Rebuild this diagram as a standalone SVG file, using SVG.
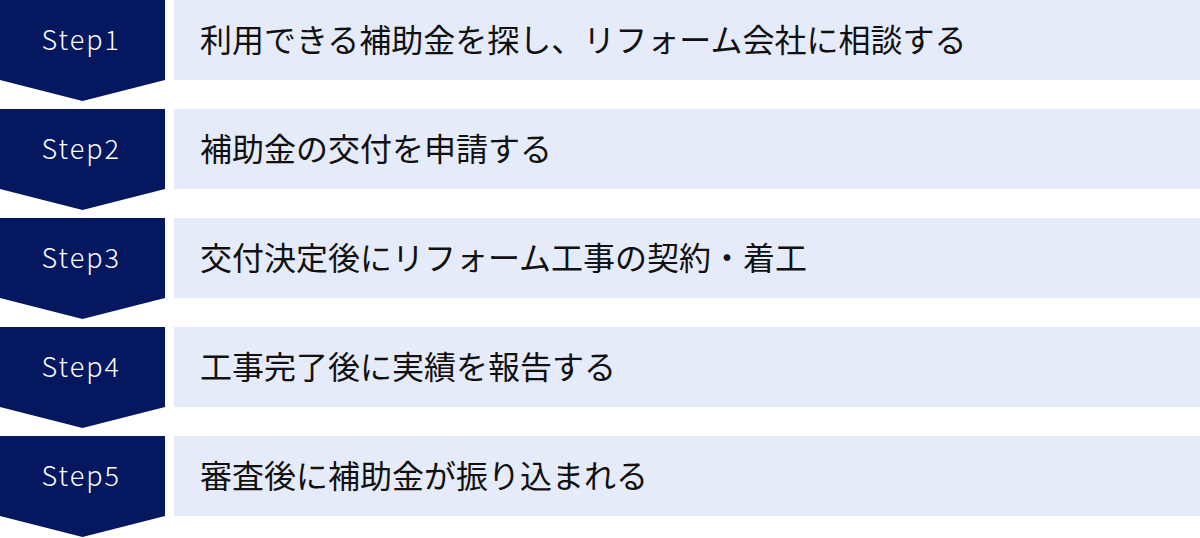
<svg xmlns="http://www.w3.org/2000/svg" width="1200" height="538" viewBox="0 0 1200 538">
<defs>
<style>
.arrow{fill:#04175f}
.box{fill:#e5ebf8}
.lbl{font-family:"Noto Sans CJK JP","Noto Sans",sans-serif;font-size:27px;font-weight:300;fill:#ffffff;letter-spacing:2px}
.txt{font-family:"Noto Sans CJK JP",sans-serif;font-size:32px;fill:#111111}
</style>
</defs>
<rect width="1200" height="538" fill="#ffffff"/>
<g id="step1">
<path class="arrow" d="M0 0H165V80L82.5 101L0 80Z"/>
<rect class="box" x="174" y="0" width="1026" height="80"/>
<text class="lbl" x="41.5" y="49.5">Step1</text>
<text class="txt" x="200" y="52">利用できる補助金を探し、リフォーム会社に相談する</text>
</g>
<g id="step2">
<path class="arrow" d="M0 109H165V189L82.5 210L0 189Z"/>
<rect class="box" x="174" y="109" width="1026" height="80"/>
<text class="lbl" x="41.5" y="158.5">Step2</text>
<text class="txt" x="200" y="161">補助金の交付を申請する</text>
</g>
<g id="step3">
<path class="arrow" d="M0 218H165V298L82.5 319L0 298Z"/>
<rect class="box" x="174" y="218" width="1026" height="80"/>
<text class="lbl" x="41.5" y="267.5">Step3</text>
<text class="txt" x="200" y="270">交付決定後にリフォーム工事の契約・着工</text>
</g>
<g id="step4">
<path class="arrow" d="M0 327H165V407L82.5 428L0 407Z"/>
<rect class="box" x="174" y="327" width="1026" height="80"/>
<text class="lbl" x="41.5" y="376.5">Step4</text>
<text class="txt" x="200" y="379">工事完了後に実績を報告する</text>
</g>
<g id="step5">
<path class="arrow" d="M0 436H165V516L82.5 537L0 516Z"/>
<rect class="box" x="174" y="436" width="1026" height="80"/>
<text class="lbl" x="41.5" y="485.5">Step5</text>
<text class="txt" x="200" y="488">審査後に補助金が振り込まれる</text>
</g>
<g id="connectors"></g>
</svg>
